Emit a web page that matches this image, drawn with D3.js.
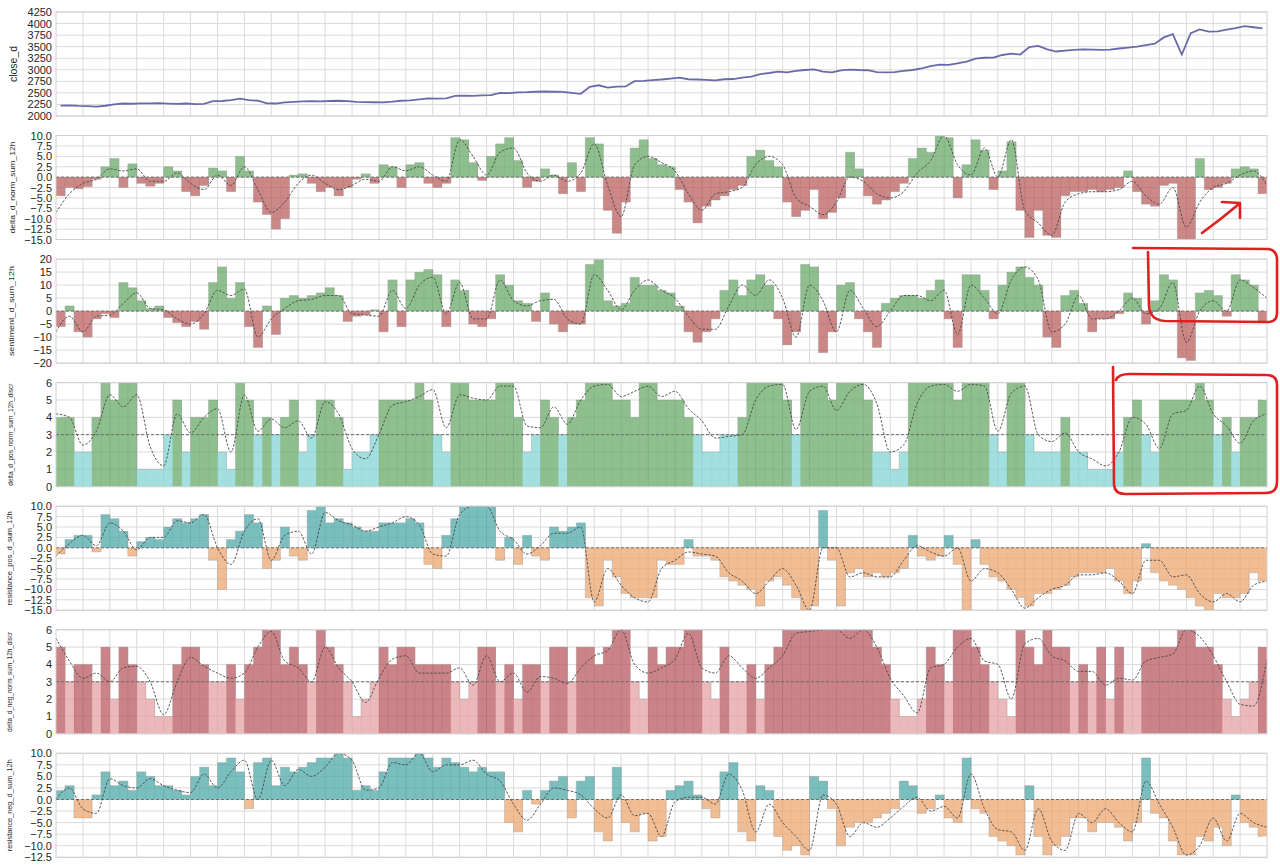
<!DOCTYPE html>
<html>
<head>
<meta charset="utf-8">
<script src="https://cdn.jsdelivr.net/npm/d3@7"></script>
<style>
  body { margin: 0; background: #fff; }
  text { font-family: "Liberation Sans", Arial, sans-serif; }
</style>
</head>
<body>
<svg id="chart" width="1280" height="868"></svg>
<script>
// ---- data (3 bars per grid cell, 45 cells) ----
var closeD = [2225,2232,2220, 2215,2205,2222, 2250,2270,2265, 2275,2272,2278, 2268,2262,2270,
  2258,2262,2320, 2325,2345,2375, 2345,2330,2275, 2270,2295,2305, 2315,2320,2318,
  2325,2330,2322, 2305,2300,2298, 2295,2310,2330, 2340,2360,2380, 2375,2380,2435,
  2440,2435,2445, 2450,2500,2495, 2510,2515,2525, 2530,2525,2520, 2500,2480,2630,
  2665,2615,2635, 2640,2755,2760, 2775,2790,2810, 2830,2795,2790, 2780,2770,2795,
  2800,2830,2850, 2905,2930,2960, 2945,2975,2995, 3010,2960,2945, 2985,3005,2995,
  2990,2950,2945, 2950,2975,2995, 3030,3080,3110, 3105,3140,3175, 3240,3260,3265,
  3320,3350,3330, 3490,3515,3440, 3395,3415,3430, 3440,3435,3430, 3435,3460,3480,
  3500,3535,3565, 3700,3770,3330, 3790,3875,3825, 3830,3870,3900, 3945,3920,3895]

var deltaNorm = [-4.5,-2.5,-2.8, -2.3,-0.5,2.5, 4.5,-2.5,3.2, -1.5,-2.2,-1.5, 2.5,1.5,-3.5,
  -4.5,-2,2.2, 1.5,-3.5,5, 1.5,-6,-9, -12.5,-10,0.5, 0.8,-1.5,-3.5,
  -2.5,-4.5,-2.5, -0.5,0.8,-1.5, 3,2.5,-2.5, 3,3.5,-1.5, -2.5,-1.5,9.5,
  9,3.5,-0.8, 5,8,9.5, 4,-2.5,-1, 2,0.5,-4, 3.5,-3.5,9.5,
  8,-8,-13.5, -6,7,9, 4.5,3,2.5, -3,-6,-11, -7,-5.5,-4.5,
  -3,-2,5, 6.5,4,2.5, -6,-9.5,-8, -3,-10,-8.5, -5,6,2,
  -4.5,-6.5,-5.5, -3.5,-1.5,4.5, 7,6,10, 9.5,-5,3, 9,6.5,-3,
  1.5,8.5,-8, -14.5,-8,-14, -14.5,-4.5,-3.5, -3.5,-3,-3.5, -3,-2.5,1.5,
  -3.5,-6.5,-7, -2,-1.5,-15, -15,4.5,-3, -2.5,-1.5,2, 2.5,2,-4]
var deltaNormMean = [-8.5,-4,-1.5,-0.5,2,1.5,2,-1,-1,1,-1.5,-3,0.5,-2,2.5,-3,-8.5,-6,-1.5,0.5,
  -1.5,-3,-2,-0.5,-1,2.5,1.5,2.5,0.5,-1,9,5,0.5,6,7,1,-1,0.5,-1,1,
  8,-2,-9.5,3,5,3.5,1.5,-4,-8,-4,-3.5,-2.5,3,5,3,-5,-7,-9,-6,0,
  -1,-4,-5,-3.5,1,4,10,3,0.5,7,0,9,-8,-11,-14,-6,-4,-3.5,-3.5,-3,
  -1,-4.5,-6.5,-2.5,-12,-6,-2.5,-1.5,0.5,1.5,-2]

var sentiment = [-6,2,-8, -10,-3,-1, -2.5,11,9, 4,1,2, -2.5,-4.5,-6,
  -4,-7,11, 17,5,11, -6,-14,2, -9,5,6, 5,6,7,
  9,6,-4, -2,-1.5,0.5, -8,12,-6, 12,15,16, 14,-6,12,
  8,-5,-6, -3,14,10, 4,3,-4, 7,-5,-8, -5,-5,18,
  20,4,2, 3,13,10, 10,8,7, 2,-8,-12, -8,-3,8,
  12,6,12, 14,10,-3, -13,-8,18, 17,-16,-8, 10,11,-3,
  -8,-14,3, 5,6,6, 5,8,12, -3,-14,14, 14,8,-3,
  10,15,17, 13,10,-10, -14,6,8, 3,-8,-3, -3,-1,7,
  5,-5,4, 14,12,-18, -19,7,8, 6,-2,14, 12,10,-4]
var sentimentMean = [-8,-2,-8,-2,-1.5,3,7,1,0.5,-3,-5,-1,8,6,8.5,-10,-3,1,4,4.5,
  6,6,-1,-1.5,-2,8,1,10,13,-1,11,-3,-3,12,4,2,4,4.5,-3,-5,
  14,8,0.5,8,12,8,5,-2,-7,-7,2,10,6,12,5,-10,10,4,-8,8,
  1,-6,0,6,6,4,8,-9,10,5,-1,12,17,12,-8,-5,6,-3,-3,0,
  5,-1,1,11,-12,0,4,0,12,9,5]

var posDiscr = [4,4,2, 2,4,6, 5,6,6, 1,1,1, 3,5,2,
  4,4,5, 2,1,6, 5,3,4, 3,4,5, 2,3,5,
  5,4,1, 2,2,3, 5,5,5, 5,6,5, 3,2,6,
  6,5,5, 5,6,6, 4,2,3, 5,4,3, 4,5,6,
  6,6,5, 5,4,6, 6,5,5, 5,4,3, 2,2,3,
  3,4,6, 6,6,6, 5,3,6, 6,6,5, 6,6,6,
  5,2,2, 1,2,6, 6,6,6, 6,5,6, 6,6,3,
  2,6,6, 3,2,2, 2,4,2, 2,1,1, 1,2,4,
  5,3,2, 5,5,5, 5,6,5, 3,4,2, 4,4,5]
var posDiscrMean = [4.2,4,2.4,3.2,5.3,4.6,5.3,2.3,1.2,4.2,3.1,4,4.5,2,5.3,3.2,3.9,3.4,3.8,2.8,
  4.9,4.2,2.2,1.6,3,4.7,4.9,5.2,5.6,3.4,5.3,5.1,5,5.8,5.8,3.5,3.4,4.6,3.6,5,
  5.8,5.9,5.2,5.5,5.8,5.2,5.5,4.5,3.8,2.8,2.9,3,5,5.8,5.9,3.3,5.5,5.8,4.4,5.5,
  5.9,4.8,2,2.4,4.8,5.8,5.9,5.5,5.9,5.8,3.2,5.4,5.8,3,2.6,3.1,2,1.6,1.2,2,
  4,3.6,2.2,4.2,4.4,5.8,4.2,3.5,2.5,3.8,4.2]

var resPos = [-1.5,2,3, 3,-1,8, 7,4,-2, 1.5,2.5,2, 5,7,6,
  7,8,-3, -10,2,4, 8,6,-5, -3,5,-2, -3,9,10,
  6,7,6, 5,4,4, 6,6,6, 7,6,-4, -5,3,7,
  10,10,10, 10,-3,2.5, -4,3,-2, -3,5,4, 5,6,-12,
  -14,-3,-7, -11,-12,-12, -12,-3,-4, -4,2,-2, -2,-3,-7,
  -8,-9,-10, -14,-8,-7, -9,-12,-15, -14,9,-3, -14,-6,-5,
  -7,-6,-7, -6,-5,3, -2,-3,-2, 3,-4,-15, 2,-4,-7,
  -8,-10,-12, -14,-11,-11, -10,-9,-7, -6,-6,-6, -5,-8,-11,
  -8,1,-6, -8,-9,-10, -12,-14,-15, -11,-12,-12, -11,-6,-8]
var resPosMean = [-2,1,3,0.5,6,4,-0.5,2.5,2.5,6.5,6,8,0,-4,4,7,-3,3,4,-1.5,
  8.5,6.5,5.5,4,5,6,7.5,5.5,-1.5,-2,8,10,10,4,2,-1.5,0.5,3.5,3.5,5,
  -13,-5,-9,-12,-13,-5,-3,-1,-1.5,-2,-6,-8,-11,-8,-5,-9,-15,0,0,-7,
  -6,-7,-7,-3,0.5,-1,-2,0,-8,-5,-6,-10,-14.5,-12,-10,-9,-6.5,-6.5,-6,-8,
  -11,-3,-3,-7,-6.5,-11,-13,-11,-13,-9,-8]

var negDiscr = [5,3,4, 4,3,5, 2,5,4, 3,2,1, 1,4,5,
  5,4,3, 3,4,2, 4,5,6, 6,4,5, 4,3,6,
  5,4,3, 1,2,3, 5,4,5, 5,4,4, 4,4,3,
  2,3,5, 5,3,4, 2,4,4, 3,5,5, 3,5,5,
  4,5,6, 6,3,2, 5,4,5, 5,6,6, 3,2,5,
  3,3,4, 2,4,5, 6,6,6, 6,6,6, 6,6,6,
  6,5,4, 2,1,1, 2,5,4, 3,6,6, 5,4,3,
  2,1,6, 5,4,6, 5,5,3, 4,3,5, 2,5,3,
  3,5,5, 5,5,6, 6,5,5, 4,2,1, 2,3,5]
var negDiscrMean = [5.5,4.2,3.2,3.5,3,3.8,3.9,3,1.1,3,4.4,3.9,3.5,3.2,3.5,5,5.9,4.2,3.8,3,
  5,3.8,3,1.8,3.2,4.3,4.5,3.5,3.5,3.5,3.8,2.8,4.5,3,3.5,2.4,3.3,3.2,2.9,3.8,
  4.5,4.8,6,4,3.5,3.8,4.3,5.8,3.8,3.5,4.5,3.8,3.2,3.8,4.5,5.8,5.9,6,6,5.5,
  6,5,3.2,2.2,1.2,3.8,4,5,5.5,4.2,4,2,5.2,5.5,4.5,4.2,3.6,3.6,2.8,3.2,
  3.1,4.2,4.4,4.6,6,5.6,4.5,3,1.7,1.6,4.3]

var resNeg = [2,3,-4, -4,1,6, 3,4,2, 6,5,3, 3,2,1,
  5,7,3, 8,9,6, -2,8,9, 3,7,6, 7,8,9,
  9,10,9, 2,3,2, 6,9,9, 9,10,9, 7,9,8,
  7,6,7, 6,6,-5, -7,2,-1, 2,4,5, -4,4,5,
  -7,-9,7, -5,-7,-3, -9,-8,2, 3,4,1, -2,-4,6,
  8,-7,-9, 3,2,-8, -11,-10,-12, 5,4,-2, -10,-6,-5,
  -5,-4,-3, -2,4,3, -3,-2,1, -4,-5,9, -2,-3,-8,
  -9,-10,-12, 3,-8,-12, -10,-8,-4, -4,-7,-5, -5,-6,-9,
  -5,9,-3, -4,-9,-12, -12,-8,-9, -6,-10,1, -5,-6,-8]
var resNegMean = [0,2.5,-2,-3,4.5,3,2.5,4.5,3,2,1.5,5.5,2.5,6,8.5,0,8.5,3,6.5,5,
  7,10,8.5,2,2.5,8,7.5,10,6,7.5,7.5,8.5,5.5,4,-1,-4.5,-1,2.5,2,1,
  -2,-4,1,-3.5,-3,-8,-0.5,0.5,0.5,-1,5.5,2,-7,-1,-5,-8,-11,1,-1,-8,
  -5,-6,-4,-1.5,0.5,-2.5,-1.5,-4,5.5,-2,-6.5,-7,-11,-2,-9,-11,-3,-5,-2,-5,
  -7,4,-1,-6,-12,-10,-4,-9,-3,-5,-6]

// tick labels per panel
var closeTicks = [2000,2250,2500,2750,3000,3250,3500,3750,4000,4250]
var normTicks = [-15,-12.5,-10,-7.5,-5,-2.5,0,2.5,5,7.5,10]
var sentTicks = [-20,-15,-10,-5,0,5,10,15,20]
var discrTicks = [0,1,2,3,4,5,6]
var resNegTicks = [-12.5,-10,-7.5,-5,-2.5,0,2.5,5,7.5,10]

// ---- layout ----
var x0 = 56, x1 = 1267, plotH = 104, top0 = 12, step = 123.55, nGrid = 45
var svg = d3.select("#chart")
var xLin = d3.scaleLinear().domain([0, nGrid]).range([x0, x1])
var f1 = d3.format(".1f"), f0 = d3.format("d")

var signColor = function(pos, neg) { return function(v) { return v >= 0 ? pos : neg } }
var discrColor = function(hi, lo) { return function(v) { return v > 3 ? hi : lo } }

var panels = [
  {label: "close_d", fs: 10.5, lx: 14, kind: "line", values: closeD, domain: [2000, 4250], ticks: closeTicks, fmt: f0},
  {label: "delta_d_norm_sum_12h", len: 92, lx: 13, values: deltaNorm, mean: deltaNormMean, domain: [-15, 10], ticks: normTicks, fmt: f1, base: 0, ref: 0, color: signColor("#6aaa6a", "#bb5f5f")},
  {label: "sentiment_d_sum_12h", len: 90, lx: 12, values: sentiment, mean: sentimentMean, domain: [-20, 20], ticks: sentTicks, fmt: f0, base: 0, ref: 0, color: signColor("#6aaa6a", "#bb5f5f")},
  {label: "delta_d_pos_norm_sum_12h_discr", len: 102, lx: 11, values: posDiscr, mean: posDiscrMean, domain: [0, 6], ticks: discrTicks, fmt: f0, base: 0, ref: 3, color: discrColor("#6aaa6a", "#86d4d4")},
  {label: "resistance_pos_d_sum_12h", len: 94, lx: 10, values: resPos, mean: resPosMean, domain: [-15, 10], ticks: normTicks, fmt: f1, base: 0, ref: 0, color: signColor("#4fa8a8", "#eca772")},
  {label: "delta_d_neg_norm_sum_12h_discr", len: 100, lx: 10, values: negDiscr, mean: negDiscrMean, domain: [0, 6], ticks: discrTicks, fmt: f0, base: 0, ref: 3, color: discrColor("#b85a60", "#e4a0a4")},
  {label: "resistance_neg_d_sum_12h", len: 92, lx: 10, values: resNeg, mean: resNegMean, domain: [-12.5, 10], ticks: resNegTicks, fmt: f1, base: 0, ref: 0, color: signColor("#4fa8a8", "#eca772")}
]

panels.forEach(function(p, idx) {
  var top = top0 + step * idx, bottom = top + plotH
  var y = d3.scaleLinear().domain(p.domain).range([bottom, top])
  var g = svg.append("g")

  // grid
  g.selectAll(".hg").data(p.ticks).join("line")
    .attr("x1", x0).attr("x2", x1)
    .attr("y1", function(d) { return y(d) }).attr("y2", function(d) { return y(d) })
    .attr("stroke", "#dadada").attr("stroke-width", 1)
  g.selectAll(".vg").data(d3.range(1, nGrid)).join("line")
    .attr("x1", function(d) { return xLin(d) }).attr("x2", function(d) { return xLin(d) })
    .attr("y1", top).attr("y2", bottom)
    .attr("stroke", "#dadada").attr("stroke-width", 1)

  svg.append("clipPath").attr("id", "clip" + idx).append("rect")
    .attr("x", x0).attr("y", top).attr("width", x1 - x0).attr("height", plotH)
  var body = g.append("g").attr("clip-path", "url(#clip" + idx + ")")
  var xb = d3.scaleBand().domain(d3.range(p.values.length)).range([x0, x1])
  var bw = xb.bandwidth()

  if (p.kind === "line") {
    body.append("path").datum(p.values)
      .attr("fill", "none").attr("stroke", "#6a6aaa").attr("stroke-width", 1.8)
      .attr("d", d3.line().x(function(d, i) { return xb(i) + bw / 2 }).y(function(d) { return y(d) }))
  } else {
    body.selectAll("rect.bar").data(p.values).join("rect")
      .attr("x", function(d, i) { return xb(i) }).attr("width", bw + 0.4)
      .attr("y", function(d) { return Math.min(y(d), y(p.base)) })
      .attr("height", function(d) { return Math.abs(y(d) - y(p.base)) })
      .attr("fill", function(d) { return p.color(d) }).attr("fill-opacity", 0.75)
    // light grey outline of the raw series
    body.append("path").datum(p.values)
      .attr("fill", "none").attr("stroke", "#9a9a9a").attr("stroke-opacity", 0.45).attr("stroke-width", 0.8)
      .attr("d", d3.line().x(function(d, i) { return xb(i) + bw / 2 }).y(function(d) { return y(d) }).curve(d3.curveStep))
    // reference level
    body.append("line").attr("x1", x0).attr("x2", x1).attr("y1", y(p.ref)).attr("y2", y(p.ref))
      .attr("stroke", "#6e6e6e").attr("stroke-width", 1).attr("stroke-dasharray", "3,2")
    // rolling mean
    var xm = d3.scaleLinear().domain([0, p.mean.length - 1]).range([x0, x1])
    body.append("path").datum(p.mean)
      .attr("fill", "none").attr("stroke", "#4a4a4a").attr("stroke-width", 0.9).attr("stroke-dasharray", "2.5,1.5")
      .attr("d", d3.line().x(function(d, i) { return xm(i) }).y(function(d) { return y(d) }).curve(d3.curveMonotoneX))
  }

  g.append("rect").attr("x", x0).attr("y", top).attr("width", x1 - x0).attr("height", plotH)
    .attr("fill", "none").attr("stroke", "#cfcfcf")

  var ax = g.append("g").attr("transform", "translate(" + x0 + ",0)")
    .call(d3.axisLeft(y).tickValues(p.ticks).tickFormat(p.fmt).tickSize(0).tickPadding(4))
  ax.select(".domain").remove()
  ax.selectAll("text").attr("font-size", 11).attr("fill", "#262626")
    .attr("font-family", "'Liberation Sans', Arial, sans-serif")

  var lab = g.append("text")
    .attr("transform", "translate(" + p.lx + "," + (top + plotH / 2) + ") rotate(-90)")
    .attr("text-anchor", "middle").attr("dominant-baseline", "middle")
    .attr("fill", "#262626").attr("font-size", p.fs || 8)
    .text(p.label)
  if (p.len) lab.attr("textLength", p.len).attr("lengthAdjust", "spacingAndGlyphs")
})

// hand-drawn red marks on the screenshot
var marks = [
  "M1202,233 Q1220,220 1239,204",
  "M1222,202 L1240,203 L1240,218",
  "M1133,248 L1268,249 Q1277,250 1277,260 L1277,313 Q1277,322 1268,322 L1165,321 Q1150,320 1149,306 L1148,252",
  "M1113,367 L1114,485 Q1115,494 1125,494 L1266,493 Q1277,493 1277,482 L1277,385 Q1277,375 1266,375 L1130,374 Q1118,374 1116,380"
]
svg.selectAll("path.mark").data(marks).join("path").attr("class", "mark")
  .attr("d", function(d) { return d })
  .attr("fill", "none").attr("stroke", "#e02020").attr("stroke-width", 2.6)
  .attr("stroke-linecap", "round").attr("stroke-linejoin", "round")
</script>
</body>
</html>
